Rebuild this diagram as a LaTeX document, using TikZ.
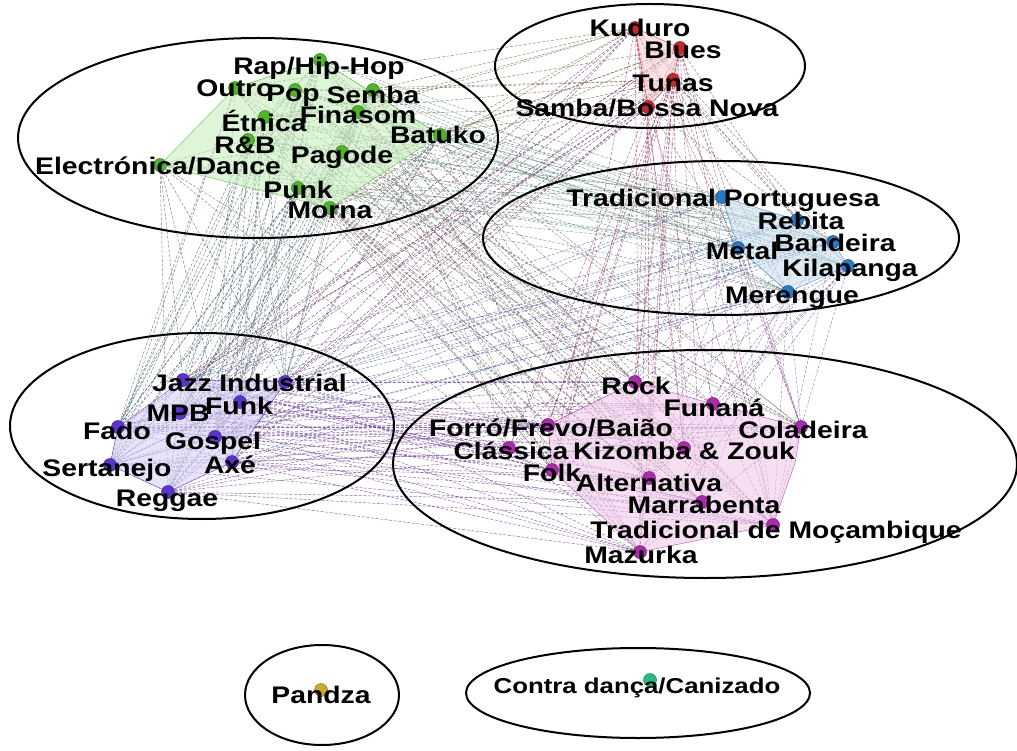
\documentclass[tikz,border=0pt]{standalone}
\usepackage{fontspec}
\setmainfont{Liberation Sans}
\newfontfamily\labfont{Liberation Sans}[FakeStretch=1.18]
\newfontfamily\smallfont{Liberation Sans}[FakeStretch=1.2]
\definecolor{c1}{RGB}{78,180,46}
\definecolor{c2}{RGB}{196,40,44}
\definecolor{c3}{RGB}{40,122,192}
\definecolor{c4}{RGB}{92,52,204}
\definecolor{c5}{RGB}{172,42,172}
\definecolor{cpandza}{RGB}{200,172,44}
\definecolor{ccontra}{RGB}{44,186,130}
\definecolor{e1}{RGB}{80,140,60}
\definecolor{e2}{RGB}{140,40,50}
\definecolor{e3}{RGB}{90,130,170}
\definecolor{e4}{RGB}{60,45,145}
\definecolor{e5}{RGB}{150,60,140}
\definecolor{h1}{RGB}{200,238,190}
\definecolor{h2}{RGB}{245,205,210}
\definecolor{h3}{RGB}{205,225,240}
\definecolor{h4}{RGB}{215,208,245}
\definecolor{h5}{RGB}{240,200,235}
\pgfdeclarelayer{edgelayer}
\pgfdeclarelayer{hulllayer}
\pgfsetlayers{edgelayer,hulllayer,main}
\tikzset{
  dot/.style={circle, fill=#1, draw=#1!70!black, line width=0.5pt, minimum size=13pt, inner sep=0pt},
  lab/.style={font=\labfont\bfseries\fontsize{24pt}{24pt}\selectfont, inner sep=0pt, text height=17pt, text depth=4pt, text=black},
  slab/.style={font=\smallfont\bfseries\fontsize{21.5pt}{21.5pt}\selectfont, inner sep=0pt, text height=15pt, text depth=4pt, text=black},
  cluster/.style={draw=black, line width=2pt},
  link/.style={line width=0.5pt, dash pattern=on 3pt off 1.6pt, draw opacity=0.72},
  hull/.style={fill=h#1, fill opacity=0.6, draw=c#1, draw opacity=0.6, line width=0.6pt}
}
\def\NL{1/rap/1,2/outro/1,3/pop/1,4/semba/1,5/etnica/1,6/finasom/1,7/batuko/1,8/rnb/1,9/pagode/1,10/electro/1,11/punk/1,12/morna/1,13/kuduro/2,14/blues/2,15/tunas/2,16/samba/2,17/tradpt/3,18/rebita/3,19/bandeira/3,20/metal/3,21/kilapanga/3,22/merengue/3,23/jazz/4,24/industrial/4,25/funk/4,26/mpb/4,27/fado/4,28/gospel/4,29/axe/4,30/sertanejo/4,31/reggae/4,32/rock/5,33/funana/5,34/coladeira/5,35/forro/5,36/classica/5,37/kizomba/5,38/folk/5,39/alternativa/5,40/marrabenta/5,41/tradmoc/5,42/mazurka/5}
\begin{document}
\begin{tikzpicture}[x=1pt,y=-1pt]
\useasboundingbox (0,0) rectangle (1017,751);
% green cluster
\node[dot=c1] (rap) at (320,60) {};
\node[dot=c1] (outro) at (235,88) {};
\node[dot=c1] (pop) at (295,90) {};
\node[dot=c1] (semba) at (373,90) {};
\node[dot=c1] (etnica) at (265,117) {};
\node[dot=c1] (finasom) at (358,112) {};
\node[dot=c1] (batuko) at (440,135) {};
\node[dot=c1] (rnb) at (248,140) {};
\node[dot=c1] (pagode) at (342,152) {};
\node[dot=c1] (electro) at (160,165) {};
\node[dot=c1] (punk) at (298,188) {};
\node[dot=c1] (morna) at (330,208) {};
% red cluster
\node[dot=c2] (kuduro) at (635,28) {};
\node[dot=c2] (blues) at (680,48) {};
\node[dot=c2] (tunas) at (673,80) {};
\node[dot=c2] (samba) at (648,107) {};
% blue cluster
\node[dot=c3] (tradpt) at (722,197) {};
\node[dot=c3] (rebita) at (797,220) {};
\node[dot=c3] (bandeira) at (833,242) {};
\node[dot=c3] (metal) at (738,248) {};
\node[dot=c3] (kilapanga) at (848,266) {};
\node[dot=c3] (merengue) at (788,292) {};
% purple cluster
\node[dot=c4] (jazz) at (183,380) {};
\node[dot=c4] (industrial) at (285,382) {};
\node[dot=c4] (funk) at (240,402) {};
\node[dot=c4] (mpb) at (180,413) {};
\node[dot=c4] (fado) at (118,427) {};
\node[dot=c4] (gospel) at (215,437) {};
\node[dot=c4] (axe) at (232,462) {};
\node[dot=c4] (sertanejo) at (110,465) {};
\node[dot=c4] (reggae) at (168,492) {};
% magenta cluster
\node[dot=c5] (rock) at (635,382) {};
\node[dot=c5] (funana) at (713,404) {};
\node[dot=c5] (coladeira) at (801,427) {};
\node[dot=c5] (forro) at (548,425) {};
\node[dot=c5] (classica) at (509,448) {};
\node[dot=c5] (kizomba) at (684,448) {};
\node[dot=c5] (folk) at (552,470) {};
\node[dot=c5] (alternativa) at (649,478) {};
\node[dot=c5] (marrabenta) at (702,502) {};
\node[dot=c5] (tradmoc) at (773,525) {};
\node[dot=c5] (mazurka) at (640,552) {};
\coordinate (mhull) at (795,463);
% isolated
\node[dot=cpandza] (pandza) at (321,690) {};
\node[dot=ccontra] (contra) at (650,680) {};

% edges
\begin{pgfonlayer}{edgelayer}
\pgfmathsetseed{2024}
\foreach \i/\a/\ga in \NL {
  \foreach \j/\b/\gb in \NL {
    \ifnum\j>\i
      \pgfmathsetmacro\mypp{{0.30,0.40,0.45,0.60,0.40, 0.40,0.60,0.40,0.40,0.60, 0.45,0.40,0.45,0.45,0.45, 0.60,0.40,0.45,0.55,0.60, 0.40,0.60,0.45,0.60,0.30}[(\ga-1)*5+\gb-1]}
      \pgfmathtruncatemacro\mylnk{rnd<\mypp}
      \ifnum\mylnk=1 \draw[link, draw=e\ga!50!e\gb] (\a) -- (\b); \fi
    \fi
  }
}
\end{pgfonlayer}

% hulls
\begin{pgfonlayer}{hulllayer}
\path[hull=1] (electro.center) -- (outro.center) -- (rap.center) -- (batuko.center) -- (morna.center) -- cycle;
\path[hull=2] (kuduro.center) -- (blues.center) -- (tunas.center) -- (samba.center) -- cycle;
\path[hull=3] (tradpt.center) -- (rebita.center) -- (bandeira.center) -- (kilapanga.center) -- (merengue.center) -- (metal.center) -- cycle;
\path[hull=4] (fado.center) -- (jazz.center) -- (industrial.center) -- (axe.center) -- (reggae.center) -- (sertanejo.center) -- cycle;
\path[hull=5] (forro.center) -- (rock.center) -- (funana.center) -- (coladeira.center) -- (mhull) -- (tradmoc.center) -- (mazurka.center) -- (folk.center) -- cycle;
\end{pgfonlayer}

% cluster ellipses
\draw[cluster] (258,138) ellipse [x radius=240, y radius=100];
\draw[cluster] (650,66) ellipse [x radius=155, y radius=62];
\draw[cluster] (721,238) ellipse [x radius=238, y radius=77];
\draw[cluster] (202,426) ellipse [x radius=192, y radius=93];
\draw[cluster] (705,464) ellipse [x radius=312, y radius=114];
\draw[cluster] (322,695) ellipse [x radius=77, y radius=50];
\draw[cluster] (638,693) ellipse [x radius=172, y radius=45];

% labels
\node[lab] (rapL) at (319,68) {Rap/Hip-Hop};
\node[lab] (outroL) at (235,90) {Outro};
\node[lab] (popL) at (293,95) {Pop};
\node[lab] (sembaL) at (373,97) {Semba};
\node[lab] (etnicaL) at (264,125) {Étnica};
\node[lab] (finasomL) at (358,117) {Finasom};
\node[lab] (batukoL) at (438,137) {Batuko};
\node[lab] (rnbL) at (245,147) {R\&B};
\node[lab] (pagodeL) at (342,157) {Pagode};
\node[lab] (electroL) at (158,168) {Electrónica/Dance};
\node[lab] (punkL) at (298,192) {Punk};
\node[lab] (mornaL) at (330,212) {Morna};
\node[lab] (kuduroL) at (640,30) {Kuduro};
\node[lab] (bluesL) at (683,52) {Blues};
\node[lab] (tunasL) at (673,85) {Tunas};
\node[lab] (sambaL) at (647,110) {Samba/Bossa Nova};
\node[lab] (tradptL) at (723,200) {Tradicional Portuguesa};
\node[lab] (rebitaL) at (801,223) {Rebita};
\node[lab] (bandeiraL) at (835,245) {Bandeira};
\node[lab] (metalL) at (742,253) {Metal};
\node[lab] (kilapangaL) at (850,270) {Kilapanga};
\node[lab] (merengueL) at (792,297) {Merengue};
\node[lab] (jazzL) at (182,385) {Jazz};
\node[lab] (industrialL) at (283,385) {Industrial};
\node[lab] (funkL) at (239,408) {Funk};
\node[lab] (mpbL) at (178,415) {MPB};
\node[lab] (fadoL) at (117,433) {Fado};
\node[lab] (gospelL) at (213,443) {Gospel};
\node[lab] (axeL) at (230,467) {Axé};
\node[lab] (sertanejoL) at (107,470) {Sertanejo};
\node[lab] (reggaeL) at (167,500) {Reggae};
\node[lab] (rockL) at (636,388) {Rock};
\node[lab] (funanaL) at (714,410) {Funaná};
\node[lab] (coladeiraL) at (803,432) {Coladeira};
\node[lab] (forroL) at (551,430) {Forró/Frevo/Baião};
\node[lab] (classicaL) at (511,453) {Clássica};
\node[lab] (kizombaL) at (684,453) {Kizomba \& Zouk};
\node[lab] (folkL) at (552,475) {Folk};
\node[lab] (alternativaL) at (649,485) {Alternativa};
\node[lab] (marrabentaL) at (704,507) {Marrabenta};
\node[lab] (tradmocL) at (776,532) {Tradicional de Moçambique};
\node[lab] (mazurkaL) at (641,557) {Mazurka};
\node[lab] (pandzaL) at (321,697) {Pandza};
\node[slab] (contraL) at (637,688) {Contra dança/Canizado};
\end{tikzpicture}
\end{document}
